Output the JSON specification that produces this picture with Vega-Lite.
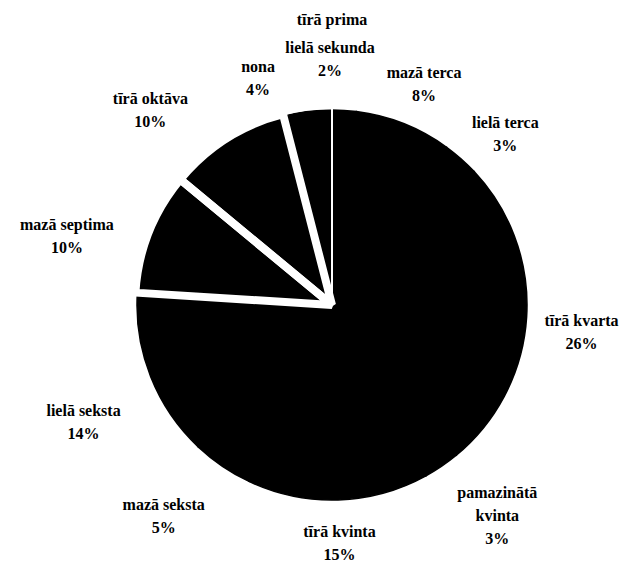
{
  "$schema": "https://vega.github.io/schema/vega-lite/v6.json",
  "autosize": {"type": "none"},
  "padding": {"left": 44, "top": 46, "right": 0, "bottom": 0},
  "width": 576,
  "height": 518,
  "background": "white",
  "config": {
    "view": {"stroke": null},
    "text": {"font": "Liberation Serif", "fontWeight": "bold", "fontSize": 16, "lineHeight": 23, "lineBreak": "\n", "align": "center", "baseline": "middle", "color": "black"}
  },
  "data": {
    "values": [
      {"interval": "tīrā prima", "percent": 0},
      {"interval": "lielā sekunda", "percent": 2},
      {"interval": "mazā terca", "percent": 8},
      {"interval": "lielā terca", "percent": 3},
      {"interval": "tīrā kvarta", "percent": 26},
      {"interval": "pamazinātā kvinta", "percent": 3},
      {"interval": "tīrā kvinta", "percent": 15},
      {"interval": "mazā seksta", "percent": 5},
      {"interval": "lielā seksta", "percent": 14},
      {"interval": "mazā septima", "percent": 10},
      {"interval": "tīrā oktāva", "percent": 10},
      {"interval": "nona", "percent": 4}
    ]
  },
  "transform": [
    {"window": [{"op": "row_number", "as": "idx"}]},
    {"calculate": "datum.percent > 0 ? replace(datum.interval, 'pamazinātā ', 'pamazinātā\\n') + '\\n' + datum.percent + '%' : datum.interval", "as": "label"}
  ],
  "encoding": {
    "theta": {"field": "percent", "type": "quantitative", "stack": true},
    "order": {"field": "idx", "type": "quantitative", "sort": "ascending"}
  },
  "layer": [
    {
      "mark": {"type": "arc", "radius": 195, "fill": "black", "stroke": "black", "strokeWidth": 1.5}
    },
    {
      "mark": {"type": "arc", "radius": 197, "filled": false, "fill": null, "stroke": "white", "strokeJoin": "bevel"},
      "encoding": {
        "strokeWidth": {
          "condition": [
            {"test": "datum.interval === 'mazā septima' || datum.interval === 'tīrā oktāva'", "value": 8},
            {"test": "datum.interval === 'nona'", "value": 2}
          ],
          "value": 0
        }
      }
    },
    {
      "mark": {"type": "text", "radius": 250},
      "encoding": {
        "text": {"condition": {"test": "indexof(['mazā terca','tīrā kvarta'], datum.interval) >= 0", "field": "label"}, "value": ""}
      }
    },
    {
      "mark": {"type": "text", "radius": 250, "dx": 8, "dy": 6},
      "encoding": {
        "text": {"condition": {"test": "datum.interval === 'lielā terca'", "field": "label"}, "value": ""}
      }
    },
    {
      "mark": {"type": "text", "radius": 250, "dx": -16, "dy": 14},
      "encoding": {
        "text": {"condition": {"test": "datum.interval === 'lielā seksta'", "field": "label"}, "value": ""}
      }
    },
    {
      "mark": {"type": "text", "radius": 255, "dy": -30},
      "encoding": {
        "text": {"condition": {"test": "datum.interval === 'tīrā prima'", "field": "label"}, "value": ""}
      }
    },
    {
      "mark": {"type": "text", "radius": 255, "dx": -18, "dy": -3},
      "encoding": {
        "text": {"condition": {"test": "datum.interval === 'lielā sekunda'", "field": "label"}, "value": ""}
      }
    },
    {
      "mark": {"type": "text", "radius": 255, "dx": -42, "dy": 15},
      "encoding": {
        "text": {"condition": {"test": "datum.interval === 'nona'", "field": "label"}, "value": ""}
      }
    },
    {
      "mark": {"type": "text", "radius": 255, "dx": -45, "dy": 9},
      "encoding": {
        "text": {"condition": {"test": "datum.interval === 'tīrā oktāva'", "field": "label"}, "value": ""}
      }
    },
    {
      "mark": {"type": "text", "radius": 255, "dx": -28, "dy": 14},
      "encoding": {
        "text": {"condition": {"test": "datum.interval === 'mazā septima'", "field": "label"}, "value": ""}
      }
    },
    {
      "mark": {"type": "text", "radius": 238, "dy": -11},
      "encoding": {
        "text": {"condition": {"test": "datum.interval === 'tīrā kvinta'", "field": "label"}, "value": ""}
      }
    },
    {
      "mark": {"type": "text", "radius": 255, "dx": 22, "dy": -23},
      "encoding": {
        "text": {"condition": {"test": "datum.interval === 'pamazinātā kvinta'", "field": "label"}, "value": ""}
      }
    },
    {
      "mark": {"type": "text", "radius": 255, "dx": -25, "dy": -11},
      "encoding": {
        "text": {"condition": {"test": "datum.interval === 'mazā seksta'", "field": "label"}, "value": ""}
      }
    }
  ]
}
